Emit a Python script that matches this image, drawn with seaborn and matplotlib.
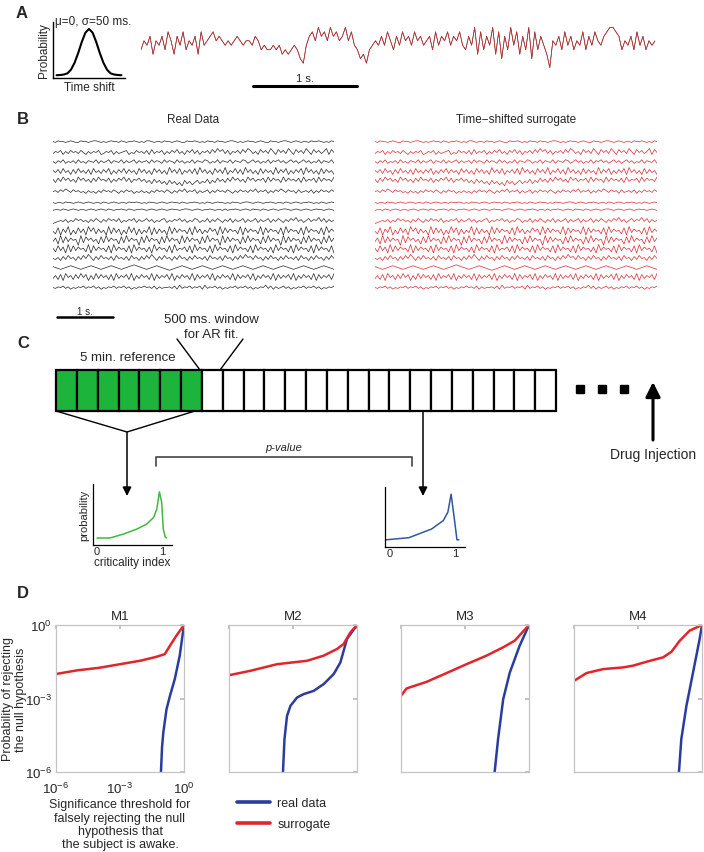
import numpy as np
import pandas as pd
import matplotlib
matplotlib.use("Agg")
import matplotlib.pyplot as plt
import seaborn as sns
from matplotlib.transforms import blended_transform_factory as blend

sns.set_theme(style="white")
plt.rcParams['font.family'] = ['Liberation Sans', 'DejaVu Sans']

# ---------------- data ----------------
# Panel A: time-shift distribution (ms) and one example trace (digits = amplitude levels)
gauss_shift_ms = [-180, -160, -140, -120, -100, -80, -60, -40, -20, 0, 20, 40, 60, 80, 100, 120, 140, 160, 180]
gauss_prob = [0.0, 0.005, 0.015, 0.04, 0.12, 0.27, 0.48, 0.72, 0.92, 1.0, 0.92, 0.72, 0.48, 0.27, 0.12, 0.04, 0.015, 0.005, 0.0]
trace_a = ("46573657486375846573856" "7867" "6565676566576" "4544545343454" "21"
           "5786978697867968" "5423145" "657586475867586756748576857685"
           "475938475938274958374928475" "306" "574857465847586" "5789987" "465748574656")
trace_a_dur = 4.94  # s

# Panel B: 16 channels (digits = amplitude levels)
traces_b = [
    "5465545654465545665454565546545565454665455465545654465565454655465545665454565545654465545665456545546556545465",
    "4657364756475364657346573645673547564738465736475846375847365748596847365748597463857496385749638574963857469385",
    "5364735463745365473645736547364573645637465374653746354736547635473654736547635746354736574635746357463547365473",
    "6473846273846372846374826374837462847362847362947382647382947362847392648372947362837462937482637482947362837462",
    "7485968574968574859675847586958476857463746352635241635246354736485748596857496857684958674958675849576849586759",
    "5647586475645364536475647536475635464536475647536475846573645736475647536475647584657364758647563745647364756475",
    "5455465545654565455465456545546556545465545654565546545565454654565545465545665456545565455465456545565454654565",
    "4554654565455456545654654556546545565456545654565545665456545565455464556545654655465456545665456545654565545654",
    "2345463547564536475364756473546573645746354673546574635476354736475364736457364573645736475364758463574658473645",
    "5382749263847295837462938472639482736492837462938475638294736485729384756392847563928475638294756382947563829475",
    "4729384756193857462839475628394756183947562839475629384756283947561938475628394756283947561938475628394756283947",
    "6384729384756392847563829475638294756372947563829465738294756382947563829475638294756372947563829475638294756382",
    "5463748563748596374856473856473856374859637485637485637485647385647385637485967485637485637485647385637485637485",
    "6543456765434567654345676543456787654345676543234567654345676543456765434567654345676543456765434567654345676543",
    "4738295738495827394857382947583927485739284758392748573928475839274857392847583927485739284758392748573928475839",
    "5465746354657465746354657465746354657564736455647384657465738465746354657465746354658473645746354657465746354657",
]
trace_b_dur = 5.02  # s

# Panel C: analysis windows and criticality-index distributions
n_reference_windows = 7
n_windows = 24
ci_ref_x = [0.0, 0.2, 0.41, 0.61, 0.76, 0.87, 0.92, 0.96, 0.995, 1.02, 1.05, 1.07]
ci_ref_p = [0.115, 0.115, 0.18, 0.26, 0.34, 0.45, 0.59, 0.87, 0.70, 0.26, 0.13, 0.115]
ci_test_x = [-0.06, 0.29, 0.64, 0.82, 0.89, 0.94, 0.99, 1.03, 1.06]
ci_test_p = [0.12, 0.155, 0.30, 0.44, 0.58, 0.88, 0.47, 0.12, 0.12]

# Panel D: log10 of significance threshold (x) and probability of rejection (y)
monkeys = ["M1", "M2", "M3", "M4"]
surr_logx = [
    [-6, -5, -4, -3, -2, -1.3, -0.9, -0.66, -0.36, 0],
    [-6, -5, -3.75, -2.34, -1.56, -0.94, -0.63, -0.31, 0],
    [-6, -5.74, -4.8, -3.86, -2.93, -1.99, -1.21, -0.67, 0],
    [-6, -5.41, -4.63, -3.69, -3.23, -2.6, -1.82, -1.43, -1.04, -0.58, 0],
]
surr_logy = [
    [-2.0, -1.85, -1.75, -1.6, -1.45, -1.3, -1.19, -0.85, -0.44, 0],
    [-2.05, -1.87, -1.6, -1.46, -1.25, -0.98, -0.78, -0.3, 0],
    [-2.89, -2.59, -2.32, -1.96, -1.6, -1.25, -0.91, -0.64, 0],
    [-2.28, -1.96, -1.8, -1.73, -1.66, -1.5, -1.32, -1.09, -0.64, -0.23, 0],
]
real_logx = [
    [-1.08, -1.03, -0.97, -0.82, -0.66, -0.43, -0.2, 0],
    [-3.47, -3.4, -3.28, -3.12, -2.81, -2.5, -2.03, -1.56, -1.09, -0.78, -0.47, 0],
    [-1.61, -1.45, -1.21, -0.9, -0.44, 0],
    [-1.08, -0.97, -0.73, -0.42, -0.11, 0],
]
real_logy = [
    [-6, -5.0, -4.39, -3.44, -2.9, -2.2, -1.25, 0],
    [-6, -4.66, -3.71, -3.3, -2.96, -2.82, -2.69, -2.41, -2.0, -1.53, -0.57, 0],
    [-6, -4.66, -3.03, -1.94, -0.85, 0],
    [-6, -4.66, -3.3, -1.94, -0.57, 0],
]

# ---------------- layout helpers ----------------
W, H = 704, 853
fig = plt.figure(figsize=(W / 100, H / 100), dpi=100)


def box(x0, y0, x1, y1):
    return [x0 / W, 1 - y1 / H, (x1 - x0) / W, (y1 - y0) / H]


GREEN = "#1db43c"
GREEN_LINE = "#3cbb3c"
BLUE_C = "#2f57a0"
BLUE = "#2b3d9c"
RED = "#e0252b"
TRACE_RED = "#dc2a30"

# overlay axes in pixel coordinates for annotations
ov = fig.add_axes([0, 0, 1, 1], zorder=10)
ov.set_xlim(0, W)
ov.set_ylim(H, 0)
ov.axis("off")
ov.patch.set_alpha(0)

for lab, (x, y) in {"A": (22, 13), "B": (23, 119), "C": (23, 343), "D": (23, 594)}.items():
    ov.text(x, y, lab, fontsize=12, fontweight="bold", ha="center", va="center")

# ---------------- Panel A ----------------
axg = fig.add_axes(box(53, 23, 125, 79))
sns.lineplot(x=gauss_shift_ms, y=gauss_prob, color="black", lw=1.5, ax=axg)
axg.set_xlim(-200, 200)
axg.set_ylim(-0.06, 1.15)
axg.set_xticks([])
axg.set_yticks([])
for s in ["top", "right"]:
    axg.spines[s].set_visible(False)
for s in ["left", "bottom"]:
    axg.spines[s].set_color("black")
    axg.spines[s].set_linewidth(1.0)
axg.set_ylabel("Probability", fontsize=8.5, labelpad=2)
axg.set_xlabel("Time shift", fontsize=8.5, labelpad=2)
ov.text(55, 22, "\u03bc=0, \u03c3=50 ms.", fontsize=8.5, ha="left", va="center")

axa = fig.add_axes(box(141, 27, 655, 70))
ya = np.array([int(c) for c in trace_a], dtype=float)
ta = np.linspace(0, trace_a_dur, len(ya))
sns.lineplot(x=ta, y=ya, color="#202020", lw=0.45, ax=axa, sort=False)
sns.lineplot(x=ta, y=ya, color=TRACE_RED, lw=0.5, alpha=0.9, ax=axa, sort=False)
axa.set_xlim(0, trace_a_dur)
axa.set_ylim(-0.3, 9.3)
axa.axis("off")
tr = blend(axa.transData, axa.transAxes)
axa.plot([1.08, 2.08], [-0.4, -0.4], color="black", lw=2.2, transform=tr, clip_on=False)
axa.text(1.58, -0.22, "1 s.", transform=tr, fontsize=8, ha="center", va="center")

# ---------------- Panel B ----------------
row_pos = [143, 154, 163, 173, 183, 193, 204, 211, 222, 233, 242, 251, 260, 269, 279, 289]
row_amp = [0.8, 1.0, 0.9, 1.0, 1.1, 0.9, 0.7, 0.7, 1.0, 1.2, 1.2, 1.2, 1.0, 0.9, 1.0, 0.8]
recs = []
for i, s in enumerate(traces_b):
    v = np.array([int(c) for c in s], dtype=float)
    t = np.linspace(0, trace_b_dur, len(v))
    recs.append(pd.DataFrame({"t": t, "v": row_pos[i] - (v - 4.5) * row_amp[i], "ch": i}))
dfb = pd.concat(recs, ignore_index=True)

for (x0, x1, col, title) in [(53, 334, "#262626", "Real Data"), (375, 657, TRACE_RED, "Time\u2212shifted surrogate")]:
    axb = fig.add_axes(box(x0, 133, x1, 298))
    sns.lineplot(data=dfb, x="t", y="v", units="ch", estimator=None, color=col, lw=0.5, sort=False, ax=axb)
    axb.set_xlim(0, trace_b_dur)
    axb.set_ylim(298, 133)
    axb.axis("off")
    ov.text((x0 + x1) / 2, 120, title, fontsize=8.5, ha="center", va="center")
    if title == "Real Data":
        trb = blend(axb.transData, axb.transAxes)
        axb.plot([0.07, 1.07], [-0.122, -0.122], color="black", lw=1.8, transform=trb, clip_on=False)
        axb.text(0.57, -0.085, "1 s.", transform=trb, fontsize=7, ha="center", va="center")

# ---------------- Panel C ----------------
axbar = fig.add_axes(box(56, 371, 556, 412))
phase = ["reference"] * n_reference_windows + ["test"] * (n_windows - n_reference_windows)
sns.barplot(x=list(range(n_windows)), y=[1] * n_windows, hue=phase,
            palette={"reference": GREEN, "test": "white"}, width=1.0, dodge=False,
            saturation=1, edgecolor="black", linewidth=1.6, legend=False, ax=axbar)
axbar.set_xlim(-0.5, n_windows - 0.5)
axbar.set_ylim(0, 1)
axbar.axis("off")
for p in axbar.patches:
    p.set_clip_on(False)

ov.text(211, 320, "500 ms. window", fontsize=9.5, ha="center", va="center")
ov.text(211, 335, "for AR fit.", fontsize=9.5, ha="center", va="center")
ov.plot([177, 200], [340, 371], color="black", lw=1)
ov.plot([243, 220], [340, 371], color="black", lw=1)
ov.text(128, 358, "5 min. reference", fontsize=9.5, ha="center", va="center")

ov.plot([56, 127, 195], [412, 433, 412], color="black", lw=1)
arrow = dict(arrowstyle="-|>", color="black", lw=1.1, mutation_scale=13, shrinkA=0, shrinkB=0)
ov.annotate("", xy=(127, 497), xytext=(127, 433), arrowprops=arrow)
ov.annotate("", xy=(423, 497), xytext=(423, 412), arrowprops=arrow)
ov.plot([156, 156, 412, 412], [467, 458, 458, 467], color="#444444", lw=1.2)
ov.text(284, 448, "p-value", fontsize=8, style="italic", ha="center", va="center")
ov.plot([580, 602, 624], [390, 390, 390], "s", color="black", markersize=5.5)
ov.annotate("", xy=(653, 383), xytext=(653, 441),
            arrowprops=dict(arrowstyle="-|>", color="black", lw=2.2, mutation_scale=22, shrinkA=0, shrinkB=0))
ov.text(653, 455, "Drug Injection", fontsize=10, ha="center", va="center")

for (bx, xs, ps, col, first) in [((93, 485, 172, 546), ci_ref_x, ci_ref_p, GREEN_LINE, True),
                                 ((385, 488, 465, 548), ci_test_x, ci_test_p, BLUE_C, False)]:
    axi = fig.add_axes(box(*bx))
    sns.lineplot(x=xs, y=ps, color=col, lw=1.1, sort=False, ax=axi)
    x0 = bx[0]
    zero_px = 97 if first else 390
    axi.set_xlim((x0 - zero_px) / 65, (bx[2] - zero_px) / 65)
    axi.set_ylim(0, 1)
    for s in ["top", "right"]:
        axi.spines[s].set_visible(False)
    for s in ["left", "bottom"]:
        axi.spines[s].set_color("black")
        axi.spines[s].set_linewidth(0.9)
    axi.set_xticks([0, 1])
    axi.set_xticklabels(["0", "1"], fontsize=8)
    axi.set_yticks([])
    axi.tick_params(axis="x", length=0, pad=1)
    if first:
        axi.set_ylabel("probability", fontsize=8, labelpad=3)
        axi.set_xlabel("criticality index", fontsize=8.5, labelpad=0)

# ---------------- Panel D ----------------
d_boxes = [(56, 626, 184, 773), (229, 626, 357, 773), (401, 626, 529, 773), (574, 626, 702, 773)]
for k, name in enumerate(monkeys):
    ax = fig.add_axes(box(*d_boxes[k]))
    sns.lineplot(x=10.0 ** np.array(real_logx[k]), y=10.0 ** np.array(real_logy[k]),
                 color=BLUE, lw=1.8, sort=False, ax=ax, label="real data")
    sns.lineplot(x=10.0 ** np.array(surr_logx[k]), y=10.0 ** np.array(surr_logy[k]),
                 color=RED, lw=1.8, sort=False, ax=ax, label="surrogate")
    ax.set_xscale("log")
    ax.set_yscale("log")
    ax.set_xlim(1e-6, 1)
    ax.set_ylim(1e-6, 1)
    ax.set_xticks([1e-6, 1e-3, 1])
    ax.set_yticks([1e-6, 1e-3, 1])
    ax.minorticks_off()
    ax.tick_params(direction="in", length=3, color="#bbbbbb", labelsize=9.5,
                   top=True, right=True)
    ax.tick_params(axis="x", pad=6)
    ax.tick_params(axis="y", pad=3)
    for s in ax.spines.values():
        s.set_color("#c4c4c4")
        s.set_linewidth(0.9)
    ax.set_title(name, fontsize=9.5, pad=4)
    if k == 0:
        ax.set_ylabel("Probability of rejecting\nthe null hypothesis", fontsize=9, linespacing=1.1)
        ax.yaxis.set_label_coords(-0.225, 0.5)
        ax.set_xlabel("Significance threshold for\nfalsely rejecting the null\nhypothesis that\nthe subject is awake.",
                      fontsize=9, labelpad=2, linespacing=1.15)
    else:
        ax.set_xticklabels([])
        ax.set_yticklabels([])
    handles, labels = ax.get_legend_handles_labels()
    ax.get_legend().remove()

leg = fig.legend(handles, labels, loc="upper left", bbox_to_anchor=(226 / W, 1 - 787 / H),
                 frameon=False, fontsize=9, handlelength=2.6, handletextpad=0.6, labelspacing=0.7)
for h in leg.legend_handles:
    h.set_linewidth(2.6)

fig.savefig("out.png", dpi=100)
